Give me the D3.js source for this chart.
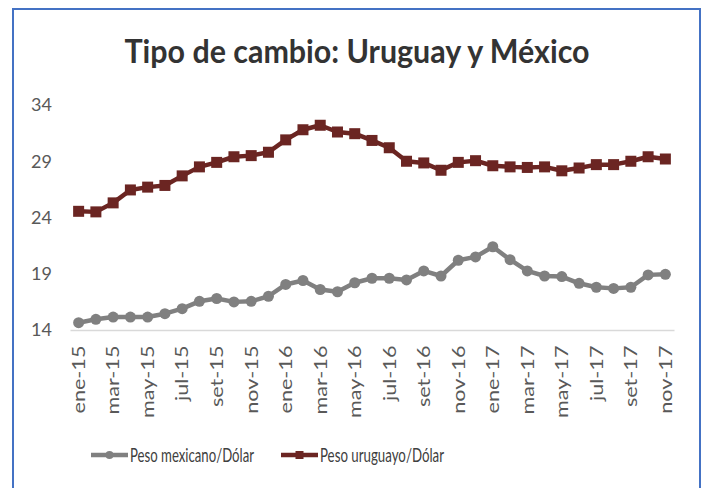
<!DOCTYPE html>
<html>
<head>
<meta charset="utf-8">
<script src="https://cdn.jsdelivr.net/npm/d3@7"></script>
<style>
  body { margin: 0; background: #fff; }
  svg { display: block; font-family: Lato, "Open Sans", sans-serif; }
</style>
</head>
<body>
<svg id="chart" width="704" height="488"></svg>
<script>
var months = ["ene-15","feb-15","mar-15","abr-15","may-15","jun-15","jul-15","ago-15","set-15","oct-15","nov-15","dic-15",
              "ene-16","feb-16","mar-16","abr-16","may-16","jun-16","jul-16","ago-16","set-16","oct-16","nov-16","dic-16",
              "ene-17","feb-17","mar-17","abr-17","may-17","jun-17","jul-17","ago-17","set-17","oct-17","nov-17"]

var pesoMexicano = [14.65,14.95,15.15,15.15,15.15,15.45,15.9,16.55,16.8,16.5,16.55,17.0,
                    18.05,18.4,17.6,17.4,18.2,18.6,18.6,18.45,19.25,18.8,20.2,20.5,
                    21.4,20.25,19.25,18.8,18.75,18.15,17.8,17.7,17.8,18.9,18.95]

var pesoUruguayo = [24.55,24.5,25.3,26.45,26.7,26.85,27.7,28.5,28.9,29.4,29.5,29.8,
                    30.9,31.8,32.2,31.6,31.45,30.85,30.2,29.0,28.85,28.2,28.9,29.05,
                    28.6,28.5,28.45,28.5,28.15,28.4,28.7,28.7,29.0,29.4,29.2]

var yTicks = [14, 19, 24, 29, 34]
var title = "Tipo de cambio: Uruguay y México"
var seriesNames = ["Peso mexicano/Dólar", "Peso uruguayo/Dólar"]

var dimensions = ({
    width: 704,
    height: 488,
    margin: { top: 105, right: 30, bottom: 158, left: 70 }
})
dimensions.boundedWidth = dimensions.width - dimensions.margin.left - dimensions.margin.right
dimensions.boundedHeight = dimensions.height - dimensions.margin.top - dimensions.margin.bottom

var svg = d3.select("#chart")

// outer frame
svg.append("rect")
    .attr("x", 13).attr("y", 9)
    .attr("width", 687).attr("height", 490)
    .attr("fill", "#fff")
    .attr("stroke", "#4472C4")
    .attr("stroke-width", 2)

svg.append("text")
    .attr("x", 357).attr("y", 63)
    .attr("text-anchor", "middle")
    .attr("font-size", 32)
    .attr("font-weight", "bold")
    .attr("fill", "#333")
    .attr("textLength", 465)
    .attr("lengthAdjust", "spacingAndGlyphs")
    .text(title)

var xScale = d3.scaleBand()
    .domain(months)
    .range([0, dimensions.boundedWidth])

var yScale = d3.scaleLinear()
    .domain([14, 34])
    .range([dimensions.boundedHeight, 0])

var bounds = svg.append("g")
    .attr("transform", "translate(" + dimensions.margin.left + "," + dimensions.margin.top + ")")

// y axis (labels only)
var yAxis = d3.axisLeft(yScale).tickValues(yTicks).tickSize(0).tickPadding(18)
bounds.append("g")
    .call(yAxis)
    .call(g => g.select(".domain").remove())
    .selectAll("text")
    .attr("font-size", 18)
    .attr("font-family", "Lato, sans-serif")
    .attr("fill", "#595959")

// x axis
var xAxis = d3.axisBottom(xScale)
    .tickValues(months.filter(function(d, i){ return !(i % 2) }))
    .tickSize(0).tickSizeOuter(0)
var xg = bounds.append("g")
    .attr("transform", "translate(0," + dimensions.boundedHeight + ")")
    .call(xAxis)
xg.select(".domain").attr("stroke", "#d9d9d9").attr("stroke-width", 1.5)
xg.selectAll("text")
    .attr("font-size", 18)
    .attr("font-family", "Lato, sans-serif")
    .attr("fill", "#595959")
    .style("text-anchor", "end")
    .attr("dx", "-13")
    .attr("dy", "0.35em")
    .attr("y", 0)
    .attr("transform", "rotate(-90) scale(1.2,1)")

var cx = function(d, i){ return xScale(months[i]) + xScale.bandwidth() / 2 }
var line = d3.line().x(cx).y(function(d){ return yScale(d) })

// Mexican peso
bounds.append("path")
    .datum(pesoMexicano)
    .attr("fill", "none")
    .attr("stroke", "#808080")
    .attr("stroke-width", 4.5)
    .attr("stroke-linejoin", "round")
    .attr("d", line)
bounds.selectAll(".mx")
    .data(pesoMexicano)
    .enter()
    .append("circle")
    .attr("cx", cx)
    .attr("cy", function(d){ return yScale(d) })
    .attr("r", 5.5)
    .attr("fill", "#808080")

// Uruguayan peso
bounds.append("path")
    .datum(pesoUruguayo)
    .attr("fill", "none")
    .attr("stroke", "#6B2522")
    .attr("stroke-width", 4.5)
    .attr("stroke-linejoin", "round")
    .attr("d", line)
bounds.selectAll(".uy")
    .data(pesoUruguayo)
    .enter()
    .append("rect")
    .attr("x", function(d, i){ return cx(d, i) - 5.5 })
    .attr("y", function(d){ return yScale(d) - 5.5 })
    .attr("width", 11)
    .attr("height", 11)
    .attr("fill", "#6B2522")

// legend
var legend = svg.append("g").attr("transform", "translate(91,455)")
var items = [
    { name: seriesNames[0], color: "#808080", x: 0, shape: "circle" },
    { name: seriesNames[1], color: "#6B2522", x: 190, shape: "square" }
]
items.forEach(function(it){
    var g = legend.append("g").attr("transform", "translate(" + it.x + ",0)")
    g.append("line").attr("x1", 0).attr("x2", 37).attr("y1", 0).attr("y2", 0)
        .attr("stroke", it.color).attr("stroke-width", 4.5)
    if (it.shape == "circle") {
        g.append("circle").attr("cx", 18.5).attr("cy", 0).attr("r", 4).attr("fill", it.color)
    } else {
        g.append("rect").attr("x", 14.5).attr("y", -4).attr("width", 8).attr("height", 8).attr("fill", it.color)
    }
    g.append("text").attr("x", 39).attr("y", 0).attr("dy", "0.35em")
        .attr("font-size", 20).attr("fill", "#404040")
        .attr("textLength", 124)
        .attr("lengthAdjust", "spacingAndGlyphs")
        .text(it.name)
})
</script>
</body>
</html>
